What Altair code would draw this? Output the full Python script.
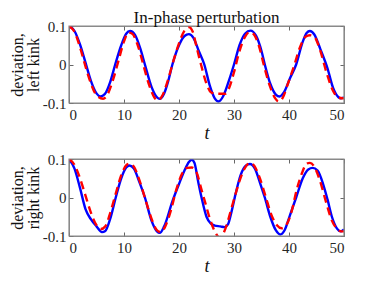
import altair as alt
import pandas as pd

# ---- data ----
# top panel: deviation, left kink
t_left_blue = [0, 1, 2, 3, 4, 5, 5.7, 6.5, 7.5, 8.4, 9.5, 10.4, 11.1, 12, 13, 13.8, 15, 16, 16.5, 17.3, 18, 18.8,
               20, 21, 21.8, 22.6, 23.6, 24.6, 25.6, 26.5, 27.2, 28, 29, 30, 31, 32, 33, 34, 35, 35.6, 36.6, 37.6,
               38.3, 39.1, 40.2, 41.3, 42.4, 43.2, 43.8, 44.6, 45.7, 47, 48, 49, 49.4, 50]
v_left_blue = [0.100, 0.087, 0.052, 0.005, -0.043, -0.075, -0.083, -0.077, -0.045, 0.0, 0.050, 0.080, 0.087, 0.077,
               0.040, 0.0, -0.058, -0.085, -0.089, -0.075, -0.045, 0.0, 0.050, 0.074, 0.079, 0.070, 0.035, 0.0,
               -0.055, -0.088, -0.096, -0.083, -0.045, 0.0, 0.050, 0.080, 0.088, 0.075, 0.035, 0.0, -0.050, -0.078,
               -0.083, -0.072, -0.035, 0.0, 0.055, 0.082, 0.087, 0.078, 0.040, -0.010, -0.060, -0.085, -0.088, -0.085]

t_left_red = [0, 1, 2, 3, 4, 5, 6.2, 7, 8, 9, 10, 10.8, 11.5, 12.5, 13.5, 14.5, 15.5, 16.2, 17, 18, 19, 20, 21, 21.8,
              22.5, 23.2, 24, 25, 25.8, 26.8, 28.4, 29, 30, 31, 32, 32.8, 33.5, 34.5, 35.4, 36.5, 37.5, 38.1, 38.8,
              39.8, 41, 42, 43, 43.8, 44.6, 45.6, 46.8, 48, 49, 50]
v_left_red = [0.100, 0.085, 0.045, -0.005, -0.050, -0.080, -0.089, -0.078, -0.040, 0.010, 0.060, 0.083, 0.080, 0.050,
              0.0, -0.050, -0.085, -0.093, -0.080, -0.040, 0.010, 0.055, 0.088, 0.097, 0.085, 0.045, 0.0, -0.050,
              -0.072, -0.076, -0.076, -0.065, -0.020, 0.035, 0.072, 0.084, 0.080, 0.050, 0.0, -0.055, -0.088, -0.096,
              -0.088, -0.050, 0.0, 0.045, 0.072, 0.076, 0.072, 0.040, -0.020, -0.068, -0.086, -0.088]

# bottom panel: deviation, right kink
t_right_blue = [0, 1, 2, 3, 4, 5, 6, 6.6, 7.5, 8.5, 9.5, 10.4, 11, 11.8, 12.8, 13.8, 15, 16, 16.5, 17.3, 18.8, 20,
                21, 21.8, 22.3, 22.8, 23.5, 24.1, 25, 25.8, 26.5, 27.5, 28.3, 28.9, 29.5, 30.3, 31.2, 32.2, 32.9,
                33.8, 34.8, 35.6, 36.6, 37.6, 38.4, 39.2, 40.2, 41.3, 42.5, 43.5, 44.3, 45.2, 46.2, 47, 47.8, 48.7,
                49.4, 50]
v_right_blue = [0.100, 0.075, 0.025, -0.030, -0.057, -0.075, -0.090, -0.087, -0.055, 0.0, 0.050, 0.078, 0.083, 0.075,
                0.040, 0.0, -0.060, -0.088, -0.092, -0.075, -0.010, 0.035, 0.070, 0.092, 0.098, 0.090, 0.040, 0.0,
                -0.050, -0.068, -0.073, -0.075, -0.077, -0.070, -0.040, 0.010, 0.058, 0.083, 0.087, 0.075, 0.035, 0.0,
                -0.050, -0.085, -0.096, -0.085, -0.045, 0.0, 0.050, 0.073, 0.077, 0.070, 0.035, -0.005, -0.050,
                -0.080, -0.088, -0.083]

t_right_red = [0, 1, 2, 3, 4, 5, 5.8, 6.6, 7.5, 8.5, 9.5, 10.5, 11, 11.8, 12.8, 14, 15, 16, 16.7, 17.5, 18.5, 19.5,
               20.5, 21.5, 22.3, 23.2, 24, 24.7, 25.5, 26.3, 27, 27.4, 28, 28.7, 29.5, 30.4, 31.3, 32.2, 33, 33.7,
               34.7, 35.7, 36.8, 37.8, 38.7, 39.5, 40.5, 41.4, 42.4, 43.2, 43.8, 44.6, 45.6, 46.7, 47.8, 48.8, 49.5, 50]
v_right_red = [0.100, 0.085, 0.050, 0.005, -0.040, -0.072, -0.082, -0.075, -0.040, 0.010, 0.058, 0.085, 0.088, 0.080,
               0.045, -0.010, -0.055, -0.085, -0.090, -0.075, -0.035, 0.020, 0.060, 0.077, 0.078, 0.065, 0.025,
               -0.010, -0.050, -0.082, -0.100, -0.105, -0.095, -0.070, -0.030, 0.015, 0.055, 0.082, 0.090, 0.082,
               0.050, 0.005, -0.045, -0.072, -0.080, -0.072, -0.035, 0.020, 0.065, 0.088, 0.090, 0.080, 0.045,
               -0.010, -0.060, -0.082, -0.088, -0.088]

x_ticks = [0, 10, 20, 30, 40, 50]
y_ticks = [-0.1, 0, 0.1]

SERIF = "Liberation Serif"
W, H = 275, 77
INWARD = alt.ExprRef(expr="-4")
FRAME = "#8a8a8a"


def panel(tb, vb, tr, vr, ytitle, title=None):
    df_b = pd.DataFrame({"t": tb, "v": vb})
    df_r = pd.DataFrame({"t": tr, "v": vr})
    xs = alt.Scale(domain=[0, 50], nice=False, zero=False)
    ys = alt.Scale(domain=[-0.1, 0.1], nice=False, zero=False)
    frame = alt.Chart(alt.Data(values=[{"f": 1}])).mark_rect(
        fillOpacity=0, stroke=FRAME, strokeWidth=1.2
    ).encode(x=alt.value(0), x2=alt.value(W), y=alt.value(0), y2=alt.value(H))
    blue = alt.Chart(df_b).mark_line(color="#0000ff", strokeWidth=2.4, clip=True,
                                     interpolate="monotone").encode(
        x=alt.X("t:Q", scale=xs, axis=alt.Axis(
            orient="bottom", values=x_ticks, title="t", titleFontStyle="italic",
            tickSize=INWARD, labelPadding=8, domain=False, grid=False)),
        y=alt.Y("v:Q", scale=ys, axis=alt.Axis(
            orient="left", values=y_ticks, title=ytitle, tickSize=INWARD,
            labelPadding=7, domain=False, grid=False,
            labelExpr="datum.value > 0.05 ? '0.1' : (datum.value < -0.05 ? '-0.1' : '0')")),
    )
    red = alt.Chart(df_r).mark_line(color="#ff0000", strokeWidth=2.4, strokeDash=[8, 5], clip=True,
                                    interpolate="monotone").encode(
        x=alt.X("t:Q", scale=xs, axis=alt.Axis(
            orient="top", values=x_ticks, title="", labels=False, tickSize=INWARD,
            domain=False, grid=False)),
        y=alt.Y("v:Q", scale=ys, axis=alt.Axis(
            orient="right", values=y_ticks, title="", labels=False, tickSize=INWARD,
            domain=False, grid=False)),
    )
    props = dict(width=W, height=H)
    if title:
        props["title"] = alt.TitleParams(title, font=SERIF, fontSize=17, fontWeight="normal",
                                         color="#111111", offset=-8)
    return alt.layer(blue, red, frame).properties(**props)


top = panel(t_left_blue, v_left_blue, t_left_red, v_left_red, ["deviation,", "left kink"],
            title="In-phase perturbation")
bottom = panel(t_right_blue, v_right_blue, t_right_red, v_right_red, ["deviation,", "right kink"])

chart = alt.vconcat(top, bottom, spacing=8).properties(
    padding={"left": 0, "top": 0, "right": 4, "bottom": 4}
).configure_view(
    stroke=FRAME, strokeWidth=1
).configure_axis(
    labelFont=SERIF, labelFontSize=15, labelColor="#262626",
    titleFont=SERIF, titleFontSize=16, titleFontWeight="normal", titleColor="#111111",
    titleLineHeight=16, tickColor="#666666", tickWidth=1
).configure_axisLeft(titlePadding=1).configure_axisBottom(titlePadding=2, titleFontSize=18)

chart.save("out.html", embed_options={"renderer": "svg", "actions": False})
